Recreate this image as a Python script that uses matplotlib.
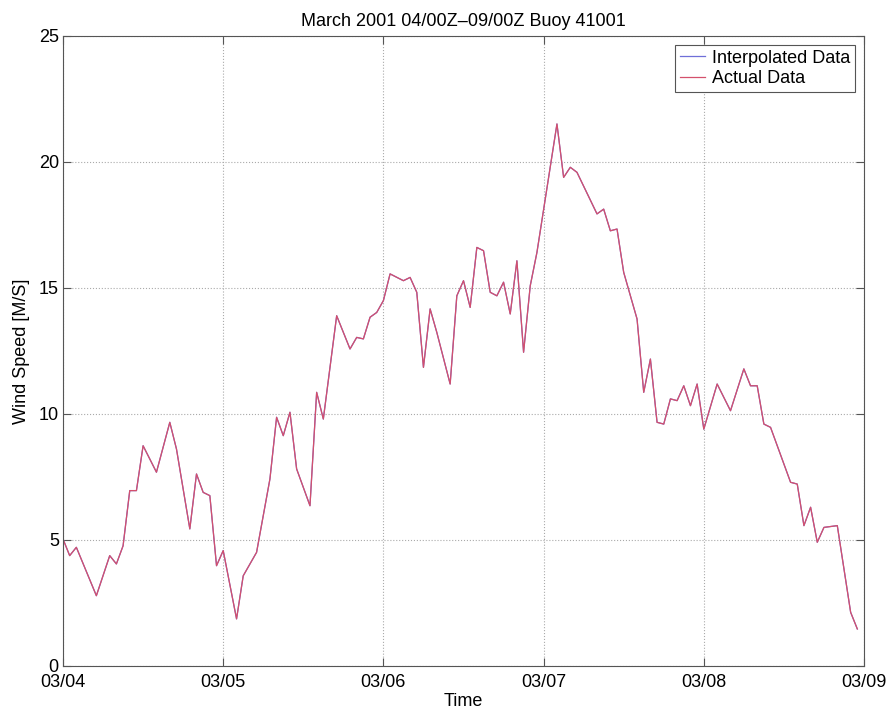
import numpy as np
import matplotlib
matplotlib.use("Agg")
import matplotlib.pyplot as plt

# hours after 03/04 00Z and wind speed [m/s]
hours = [0, 1, 2, 5, 7, 8, 9, 10, 11, 12, 14, 16, 17, 19, 20, 21, 22, 23, 24,
         26, 27, 29, 31, 32, 33, 34, 35, 37, 38, 39, 41, 43, 44, 45, 46, 47, 48,
         49, 51, 52, 53, 54, 55, 56, 58, 59, 60, 61, 62, 63, 64, 65, 66, 67, 68,
         69, 70, 71, 74, 75, 76, 77, 80, 81, 82, 83, 84, 86, 87, 88, 89, 90, 91,
         92, 93, 94, 95, 96, 98, 100, 102, 103, 104, 105, 106, 109, 110, 111, 112,
         113, 114, 116, 118, 119]
speed = [5.04, 4.38, 4.71, 2.79, 4.38, 4.05, 4.77, 6.96, 6.96, 8.74, 7.69, 9.67, 8.61,
         5.44, 7.62, 6.89, 6.76, 3.98, 4.58, 1.87, 3.58, 4.51, 7.42, 9.87, 9.14, 10.07,
         7.82, 6.36, 10.86, 9.80, 13.90, 12.58, 13.04, 12.98, 13.84, 14.03, 14.50, 15.56,
         15.29, 15.42, 14.83, 11.85, 14.17, 13.24, 11.19, 14.69, 15.29, 14.23, 16.61,
         16.48, 14.83, 14.69, 15.23, 13.97, 16.08, 12.45, 15.09, 16.41, 21.51, 19.39,
         19.79, 19.59, 17.94, 18.13, 17.27, 17.34, 15.62, 13.77, 10.86, 12.18, 9.67, 9.60,
         10.60, 10.53, 11.12, 10.33, 11.19, 9.40, 11.19, 10.13, 11.79, 11.12, 11.12,
         9.60, 9.47, 7.29, 7.22, 5.57, 6.30, 4.91, 5.50, 5.57, 2.13, 1.47]

tick_labels = ["03/04", "03/05", "03/06", "03/07", "03/08", "03/09"]

plt.rcParams['font.family'] = ['Liberation Sans', 'DejaVu Sans']
fs = 13

fig = plt.figure(figsize=(8.91, 7.19), dpi=100)
ax = fig.add_axes([63 / 891, 53 / 719, 801 / 891, 630 / 719])

ax.plot(hours, speed, color="#6f6fd8", lw=0.9, label="Interpolated Data")
ax.plot(hours, speed, color="#d4506c", lw=0.9, label="Actual Data")

ax.set_xlim(0, 120)
ax.set_ylim(0, 25)
ax.set_xticks(np.arange(0, 121, 24))
ax.set_xticklabels(tick_labels)
ax.set_yticks(np.arange(0, 26, 5))
ax.tick_params(direction="in", top=True, right=True, labelsize=fs, length=6,
               color="#555555")
ax.tick_params(axis="x", pad=6)
ax.tick_params(axis="y", pad=3)
ax.grid(True, linestyle=":", color="#aaaaaa", lw=0.8)
for s in ax.spines.values():
    s.set_color("#555555")

ax.set_xlabel("Time", fontsize=fs, labelpad=1)
ax.set_ylabel("Wind Speed [M/S]", fontsize=fs, labelpad=6)
ax.set_title("March 2001 04/00Z\u201309/00Z Buoy 41001", fontsize=fs, pad=7)

leg = ax.legend(loc="upper right", fontsize=fs, fancybox=False, framealpha=1,
                edgecolor="#555555", handlelength=1.4, handletextpad=0.4,
                borderpad=0.25, labelspacing=0.2, borderaxespad=0.5)
leg.get_frame().set_linewidth(0.8)

fig.savefig("out.png", dpi=100)
